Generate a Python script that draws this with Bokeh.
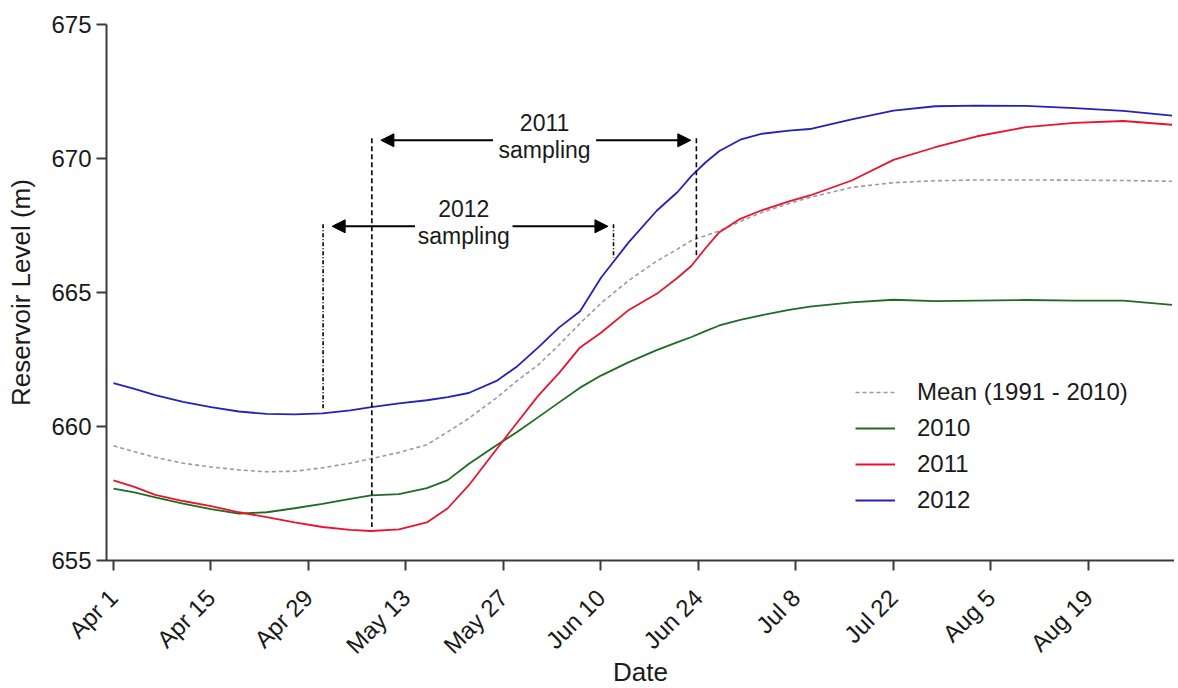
import numpy as np
from bokeh.plotting import figure
from bokeh.models import (Range1d, FixedTicker, Legend, LegendItem, Arrow,
                          NormalHead, ColumnDataSource)
from bokeh.embed import file_html
from bokeh.resources import INLINE
from bokeh.core.properties import value

# ---------------- data ----------------
days = [0, 3, 6, 10, 14, 18, 22, 26, 30, 34, 37, 41, 45, 48, 51, 55, 58, 61,
        64, 67, 70, 74, 78, 81, 83, 85, 87, 90, 93, 97, 100, 106, 112, 118,
        124, 131, 138, 145, 152]

mean_level = [659.28, 659.06, 658.85, 658.63, 658.49, 658.38, 658.31, 658.33,
              658.46, 658.63, 658.80, 659.03, 659.32, 659.80, 660.30, 661.07,
              661.72, 662.30, 663.05, 663.85, 664.60, 665.45, 666.17, 666.62,
              666.94, 667.12, 667.30, 667.65, 667.98, 668.32, 668.55, 668.92,
              669.10, 669.17, 669.20, 669.20, 669.19, 669.18, 669.15]

level_2010 = [657.68, 657.54, 657.36, 657.12, 656.92, 656.75, 656.80, 656.95,
              657.11, 657.30, 657.43, 657.48, 657.70, 658.00, 658.60, 659.30,
              659.80, 660.35, 660.90, 661.45, 661.90, 662.40, 662.85, 663.15,
              663.34, 663.56, 663.77, 663.98, 664.15, 664.35, 664.47, 664.63,
              664.73, 664.68, 664.70, 664.72, 664.70, 664.70, 664.54]

level_2011 = [657.99, 657.75, 657.45, 657.22, 657.03, 656.80, 656.62, 656.42,
              656.25, 656.14, 656.10, 656.16, 656.42, 656.95, 657.80, 659.15,
              660.16, 661.15, 662.00, 662.95, 663.50, 664.35, 664.95, 665.55,
              666.00, 666.65, 667.25, 667.75, 668.06, 668.40, 668.62, 669.18,
              669.95, 670.42, 670.83, 671.17, 671.33, 671.40, 671.26]

level_2012 = [661.62, 661.40, 661.17, 660.92, 660.72, 660.56, 660.47, 660.45,
              660.49, 660.60, 660.72, 660.86, 660.98, 661.10, 661.25, 661.70,
              662.25, 662.95, 663.70, 664.30, 665.55, 666.88, 668.05, 668.75,
              669.35, 669.85, 670.28, 670.70, 670.92, 671.04, 671.10, 671.46,
              671.79, 671.95, 671.97, 671.96, 671.88, 671.78, 671.60]

tick_days = [0, 14, 28, 42, 56, 70, 84, 98, 112, 126, 140]
tick_labels = ["Apr 1", "Apr 15", "Apr 29", "May 13", "May 27", "Jun 10",
               "Jun 24", "Jul 8", "Jul 22", "Aug 5", "Aug 19"]
y_ticks = [655, 660, 665, 670, 675]

sampling_years = ["2011", "2012"]
sampling_start = [37.1, 30.1]
sampling_end = [83.7, 71.8]
arrow_level = [670.68, 667.47]
label_day = [61.9, 50.3]

# ---------------- figure ----------------
FONT = "Liberation Sans"
p = figure(frame_width=1068, frame_height=536, output_backend="svg",
           toolbar_location=None,
           x_range=Range1d(-1.0, 152.35), y_range=Range1d(655, 675),
           min_border_left=106, min_border_right=0, min_border_top=24,
           min_border_bottom=0)
p.outline_line_color = None
p.xgrid.visible = False
p.ygrid.visible = False
p.background_fill_color = "white"

for ax in (p.xaxis[0], p.yaxis[0]):
    ax.axis_line_color = "#3a3a3a"
    ax.axis_line_width = 2
    ax.major_tick_line_color = "#3a3a3a"
    ax.major_tick_line_width = 2
    ax.major_tick_out = 10
    ax.major_tick_in = 0
    ax.minor_tick_line_color = None
    ax.major_label_text_font = FONT
    ax.major_label_text_font_size = "24px"
    ax.major_label_text_color = "#1a1a1a"
    ax.axis_label_text_font = FONT
    ax.axis_label_text_font_size = "26px"
    ax.axis_label_text_font_style = "normal"
    ax.axis_label_text_color = "#1a1a1a"

p.xaxis.ticker = FixedTicker(ticks=tick_days)
p.xaxis.major_label_overrides = {d: l for d, l in zip(tick_days, tick_labels)}
p.xaxis.major_label_orientation = np.pi / 4
p.xaxis.major_label_standoff = 23
p.xaxis.axis_label = "Date"
p.xaxis.axis_label_standoff = -14

p.yaxis.ticker = FixedTicker(ticks=y_ticks)
p.yaxis.major_label_standoff = 5
p.yaxis.axis_label = "Reservoir Level (m)"
p.yaxis.axis_label_standoff = 12

src = ColumnDataSource(dict(day=days, mean=mean_level, y2010=level_2010,
                            y2011=level_2011, y2012=level_2012))

r_mean = p.line("day", "mean", source=src, line_color="#9a9a9a", line_width=1.6,
                line_dash="4 3")
r10 = p.line("day", "y2010", source=src, line_color="#1f6b24", line_width=1.8)
r11 = p.line("day", "y2011", source=src, line_color="#e8142d", line_width=1.8)
r12 = p.line("day", "y2012", source=src, line_color="#2323b4", line_width=1.8)

# ---------------- sampling annotations ----------------
series_by_year = {"2011": level_2011, "2012": level_2012}
dash_by_year = {"2011": "5 3", "2012": "4 2 1 2"}
for yr, s0, s1, lev, lx in zip(sampling_years, sampling_start, sampling_end,
                               arrow_level, label_day):
    curve = series_by_year[yr]
    b0 = float(np.interp(s0, days, curve)) + 0.15
    b1 = float(np.interp(s1, days, curve)) + 0.15
    p.segment(x0=[s0, s1], y0=[lev + 0.08, lev + 0.08], x1=[s0, s1], y1=[b0, b1],
              line_color="black", line_width=1.6, line_dash=dash_by_year[yr])
    half_gap = 7.4 if yr == "2011" else 7.0
    p.add_layout(Arrow(x_start=lx - half_gap, y_start=lev, x_end=s0 + 1.3, y_end=lev,
                       line_width=2, line_color="black",
                       end=NormalHead(size=13, fill_color="black", line_color="black")))
    p.add_layout(Arrow(x_start=lx + half_gap, y_start=lev, x_end=s1 - 0.8, y_end=lev,
                       line_width=2, line_color="black",
                       end=NormalHead(size=13, fill_color="black", line_color="black")))
    p.text(x=[lx, lx], y=[lev + 0.68, lev - 0.37], text=[yr, "sampling"],
           text_align="center", text_baseline="middle", text_font=value(FONT),
           text_font_size="23px", text_color="#1a1a1a")

# ---------------- legend ----------------
legend = Legend(items=[LegendItem(label="Mean (1991 - 2010)", renderers=[r_mean]),
                       LegendItem(label="2010", renderers=[r10]),
                       LegendItem(label="2011", renderers=[r11]),
                       LegendItem(label="2012", renderers=[r12])],
                location=(749, 45))
legend.border_line_color = None
legend.background_fill_alpha = 0
legend.padding = 0
legend.margin = 0
legend.spacing = 6
legend.glyph_width = 40
legend.glyph_height = 30
legend.label_height = 30
legend.label_standoff = 22
legend.label_text_font = FONT
legend.label_text_font_size = "24px"
legend.label_text_color = "#1a1a1a"
legend.label_text_baseline = "middle"
p.add_layout(legend)

open("out.html", "w").write(file_html(p, INLINE))
